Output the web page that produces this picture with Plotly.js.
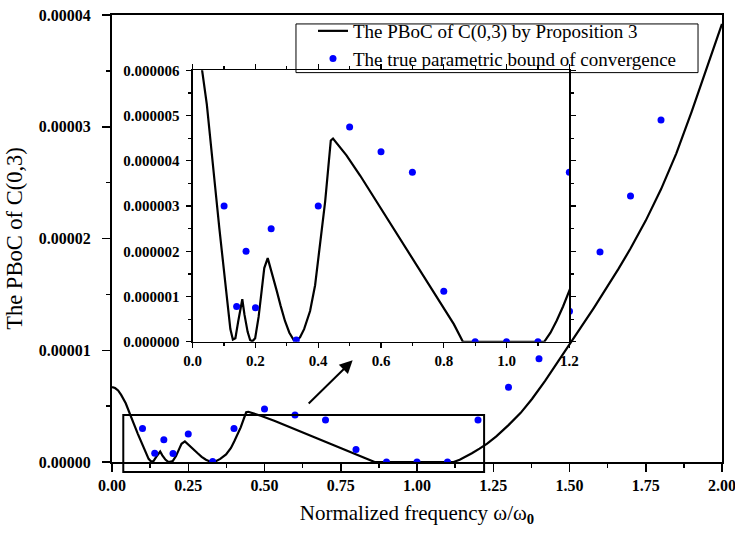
<!DOCTYPE html>
<html><head><meta charset="utf-8">
<script src="https://cdn.plot.ly/plotly-3.0.1.min.js"></script>
<style>html,body{margin:0;padding:0;background:#fff}#chart{width:735px;height:534px}</style>
</head><body><div id="chart"></div>
<script>
// The PBoC of C(0,3) by Proposition 3
const curveX = [0.000,0.010,0.020,0.030,0.045,0.060,0.071,0.085,0.098,0.110,0.120,0.128,0.136,0.145,0.152,0.158,0.165,0.175,0.183,0.190,0.199,0.210,0.220,0.228,0.239,0.250,0.268,0.280,0.294,0.308,0.321,0.330,0.342,0.355,0.374,0.390,0.401,0.412,0.422,0.432,0.440,0.447,0.460,0.490,0.534,0.619,0.725,0.832,0.861,1.000,1.120,1.140,1.160,1.180,1.205,1.230,1.260,1.300,1.340,1.377,1.420,1.460,1.502,1.540,1.580,1.620,1.661,1.700,1.750,1.800,1.850,1.900,1.950,2.000];
const curveY = [6.70e-6,6.62e-6,6.40e-6,6.00e-6,5.25e-6,4.30e-6,3.46e-6,2.50e-6,1.63e-6,0.85e-6,0.28e-6,0.05e-6,0.08e-6,0.45e-6,0.75e-6,0.94e-6,0.60e-6,0.22e-6,0.04e-6,0.01e-6,0.08e-6,0.55e-6,1.15e-6,1.63e-6,1.85e-6,1.55e-6,1.12e-6,0.80e-6,0.46e-6,0.20e-6,0.05e-6,0.03e-6,0.10e-6,0.28e-6,0.68e-6,1.25e-6,1.85e-6,2.45e-6,3.10e-6,3.85e-6,4.45e-6,4.49e-6,4.38e-6,4.12e-6,3.67e-6,2.73e-6,1.56e-6,0.39e-6,0,0,0,0.20e-6,0.47e-6,0.78e-6,1.20e-6,1.65e-6,2.30e-6,3.30e-6,4.40e-6,5.64e-6,7.25e-6,8.85e-6,10.6e-6,12.15e-6,13.8e-6,15.5e-6,17.3e-6,19.1e-6,21.6e-6,24.4e-6,27.6e-6,31.3e-6,35.2e-6,39.2e-6];
// The true parametric bound of convergence
const trueX = [0.10,0.14,0.17,0.20,0.25,0.33,0.40,0.50,0.60,0.70,0.80,0.90,1.00,1.10,1.20,1.30,1.40,1.50,1.60,1.70,1.80];
const trueY = [3.0e-6,0.78e-6,2.0e-6,0.75e-6,2.5e-6,0.04e-6,3.0e-6,4.75e-6,4.2e-6,3.75e-6,1.12e-6,0,0,0,3.75e-6,6.7e-6,9.25e-6,13.5e-6,18.8e-6,23.8e-6,30.6e-6];

const nameCurve = 'The PBoC of C(0,3) by Proposition 3';
const nameTrue = 'The true parametric bound of convergence';
const xTitle = 'Normalized frequency ω/ω<sub><b>0</b></sub>';
const yTitle = 'The PBoC of C(0,3)';

const mainXRange = [0, 2];
const mainYRange = [0, 4e-5];
const insetXRange = [0, 1.2];
const insetYRange = [0, 6e-6];

const serif = 'Liberation Serif, Times New Roman, serif';
const tickFontMain = {family: serif, size: 16, color: '#000', weight: 'bold'};
const tickFontInset = {family: serif, size: 15, color: '#000', weight: 'bold'};

function px(v) { return (v - mainXRange[0]) / (mainXRange[1] - mainXRange[0]); }
function py(v) { return (v - mainYRange[0]) / (mainYRange[1] - mainYRange[0]); }

const lineStyle = {color: '#000', width: 2.2};
const markerStyle = {color: '#0000ff', size: 7};

const traces = [
  {x: curveX, y: curveY, mode: 'lines', name: nameCurve, line: lineStyle, xaxis: 'x', yaxis: 'y'},
  {x: trueX, y: trueY, mode: 'markers', name: nameTrue, marker: markerStyle, xaxis: 'x', yaxis: 'y'},
  {x: curveX, y: curveY, mode: 'lines', showlegend: false, line: lineStyle, xaxis: 'x2', yaxis: 'y2'},
  {x: trueX, y: trueY, mode: 'markers', showlegend: false, marker: markerStyle, xaxis: 'x2', yaxis: 'y2'}
];

const layout = {
  width: 735, height: 534,
  margin: {l: 112, r: 13, t: 12, b: 72},
  paper_bgcolor: '#fff', plot_bgcolor: '#fff',
  showlegend: true,
  legend: {x: 0.3295, y: 1.0067, xanchor: 'left', yanchor: 'top', bgcolor: 'rgba(0,0,0,0)', borderwidth: 0,
           font: {family: serif, size: 19, color: '#000'}, tracegroupgap: 0},
  xaxis: {domain: [0, 1], range: mainXRange, anchor: 'y', dtick: 0.25, tick0: 0, tickformat: '.2f',
          ticks: 'outside', ticklen: 8, tickwidth: 1.5, tickcolor: '#000',
          minor: {dtick: 0.125, ticks: 'outside', ticklen: 4, tickwidth: 1.5, tickcolor: '#000'},
          showline: true, linecolor: '#000', linewidth: 2, mirror: true, showgrid: false, zeroline: false,
          tickfont: tickFontMain, ticklabelstandoff: 0, ticklabeloverflow: 'allow',
          title: {text: xTitle, font: {family: serif, size: 21, color: '#000'}, standoff: 12}},
  yaxis: {domain: [0, 1], range: mainYRange, anchor: 'x', dtick: 1e-5, tick0: 0, tickformat: '.5f',
          ticks: 'outside', ticklen: 8, tickwidth: 1.5, tickcolor: '#000',
          minor: {dtick: 5e-6, ticks: 'outside', ticklen: 4, tickwidth: 1.5, tickcolor: '#000'},
          showline: true, linecolor: '#000', linewidth: 2, mirror: true, showgrid: false, zeroline: false,
          tickfont: tickFontMain, ticklabelstandoff: 8, ticklabeloverflow: 'allow',
          title: {text: yTitle, font: {family: serif, size: 22.5, color: '#000'}, standoff: 10}},
  xaxis3: {overlaying: 'x', anchor: 'y', side: 'top', range: mainXRange, dtick: 0.25, tick0: 0,
           ticks: 'inside', ticklen: 5, tickwidth: 1.2, tickcolor: '#000', showticklabels: false,
           minor: {dtick: 0.125, ticks: 'inside', ticklen: 3, tickwidth: 1.2, tickcolor: '#000'},
           showline: false, showgrid: false, zeroline: false},
  yaxis3: {overlaying: 'y', anchor: 'x', side: 'right', range: mainYRange, dtick: 1e-5, tick0: 0,
           ticks: 'inside', ticklen: 5, tickwidth: 1.2, tickcolor: '#000', showticklabels: false,
           minor: {dtick: 5e-6, ticks: 'inside', ticklen: 3, tickwidth: 1.2, tickcolor: '#000'},
           showline: false, showgrid: false, zeroline: false},
  xaxis2: {domain: [0.1323, 0.7497], range: insetXRange, anchor: 'y2', dtick: 0.2, tick0: 0, tickformat: '.1f',
           ticks: 'outside', ticklen: 5, tickwidth: 1.2, tickcolor: '#000',
           minor: {dtick: 0.1, ticks: 'outside', ticklen: 3, tickwidth: 1.2, tickcolor: '#000'},
           showline: true, linecolor: '#000', linewidth: 1.3, mirror: 'ticks', showgrid: false, zeroline: false,
           tickfont: tickFontInset, ticklabelstandoff: 0},
  yaxis2: {domain: [0.2689, 0.8762], range: insetYRange, anchor: 'x2', dtick: 1e-6, tick0: 0, tickformat: '.6f',
           ticks: 'outside', ticklen: 5, tickwidth: 1.2, tickcolor: '#000',
           minor: {dtick: 5e-7, ticks: 'outside', ticklen: 3, tickwidth: 1.2, tickcolor: '#000'},
           showline: true, linecolor: '#000', linewidth: 1.3, mirror: 'ticks', showgrid: false, zeroline: false,
           tickfont: tickFontInset, ticklabelstandoff: 4},
  shapes: [
    {type: 'rect', xref: 'paper', yref: 'paper', x0: px(0.037), x1: px(1.22), y0: py(-0.9e-6), y1: py(4.2e-6),
     line: {color: '#000', width: 2}, fillcolor: 'rgba(0,0,0,0)', layer: 'above'},
    {type: 'rect', xref: 'paper', yref: 'paper', x0: 0.3016, x1: 0.9607, y0: 0.8711, y1: 0.98,
     line: {color: '#000', width: 1}, fillcolor: 'rgba(0,0,0,0)', layer: 'above'}
  ],
  annotations: [
    {xref: 'x', yref: 'y', axref: 'x', ayref: 'y', x: 0.789, y: 9.1e-6, ax: 0.64, ay: 5.1e-6,
     text: '', showarrow: true, arrowhead: 2, arrowsize: 1.3, arrowwidth: 2, arrowcolor: '#000'}
  ]
};

Plotly.newPlot('chart', traces, layout, {displayModeBar: false, staticPlot: true});
</script>
</body></html>
